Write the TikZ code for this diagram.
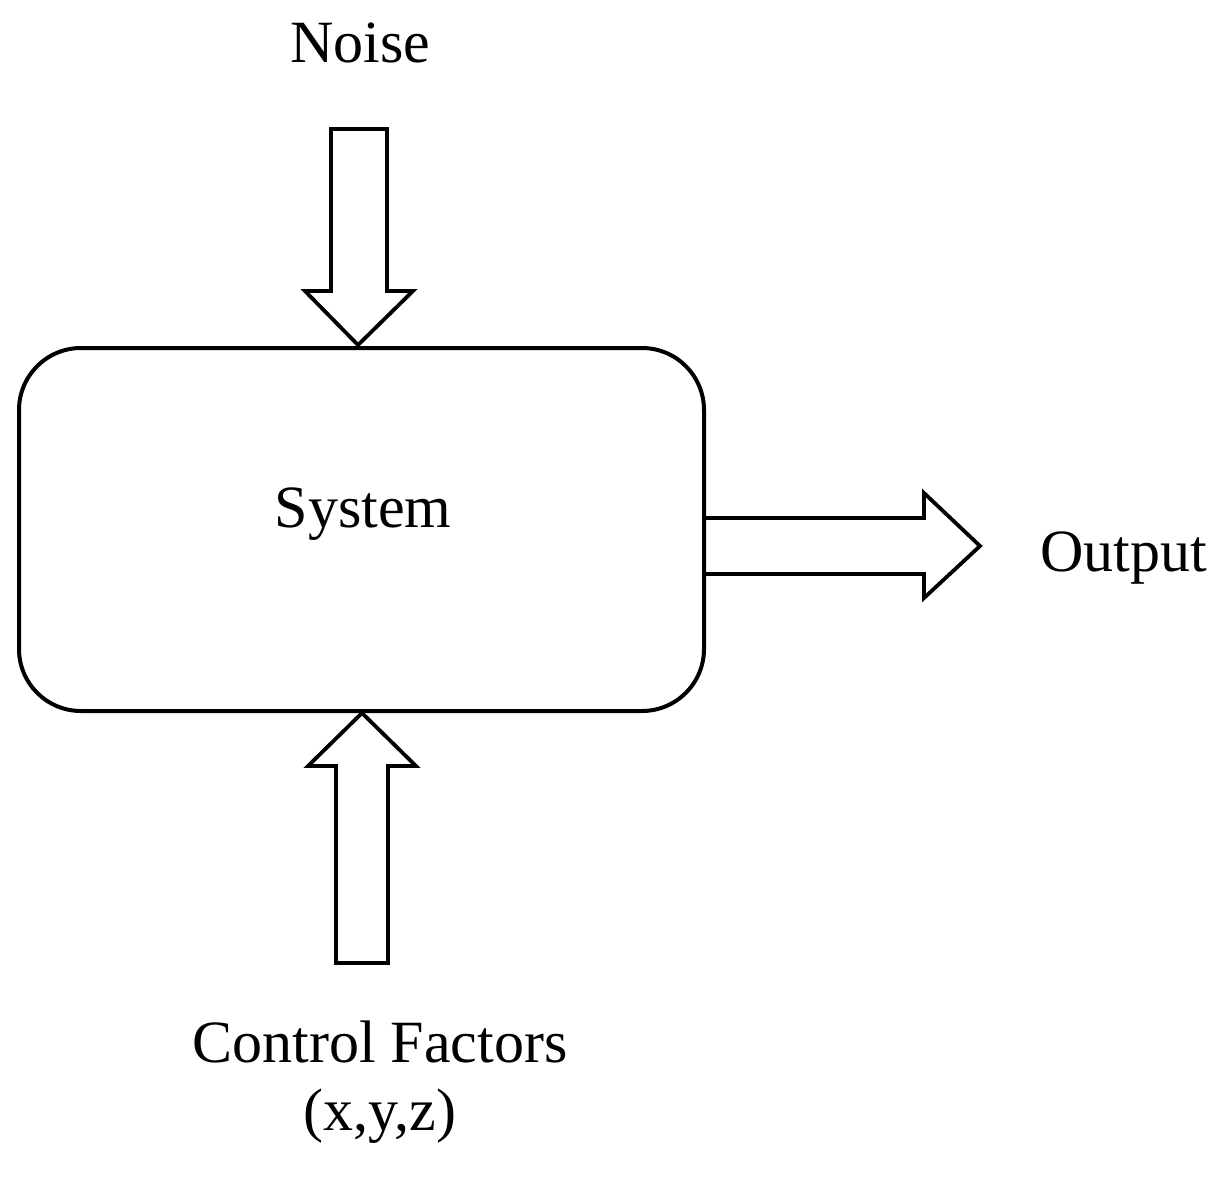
\documentclass[tikz,border=0pt]{standalone}
\usepackage{fontspec}
\setmainfont{Liberation Serif}
\begin{document}
\begin{tikzpicture}[x=0.5pt,y=-0.5pt,
  lbl/.style={anchor=base,inner sep=0pt,font=\fontsize{30}{36}\selectfont},
  boxline/.style={line width=2pt},
  blockarrow/.style={line width=1.9pt,line join=miter,fill=white}]
\useasboundingbox (0,0) rectangle (1227,1178);
% noise arrow
\draw[blockarrow] (331,129) -- (387,129) -- (387,291) -- (413,291) -- (358,345)
  -- (305,291) -- (331,291) -- cycle;
\node[lbl] (noise) at (360,62) {Noise};
% control arrow
\draw[blockarrow] (336,963) -- (388,963) -- (388,766) -- (416,766) -- (362,713)
  -- (308,766) -- (336,766) -- cycle;
\node[lbl] (ctrl) at (380,1062) {Control Factors};
\node[lbl] (xyz) at (380,1130) {(x,y,z)};
% output arrow
\draw[blockarrow] (704,518) -- (924,518) -- (924,493) -- (980,546) -- (924,598)
  -- (924,574) -- (704,574);
\node[lbl] (out) at (1124,571) {Output};
% system box
\draw[boxline,rounded corners=31pt] (19,348) rectangle (704,711);
\node[lbl] (sys) at (363,527) {System};
\end{tikzpicture}
\end{document}
